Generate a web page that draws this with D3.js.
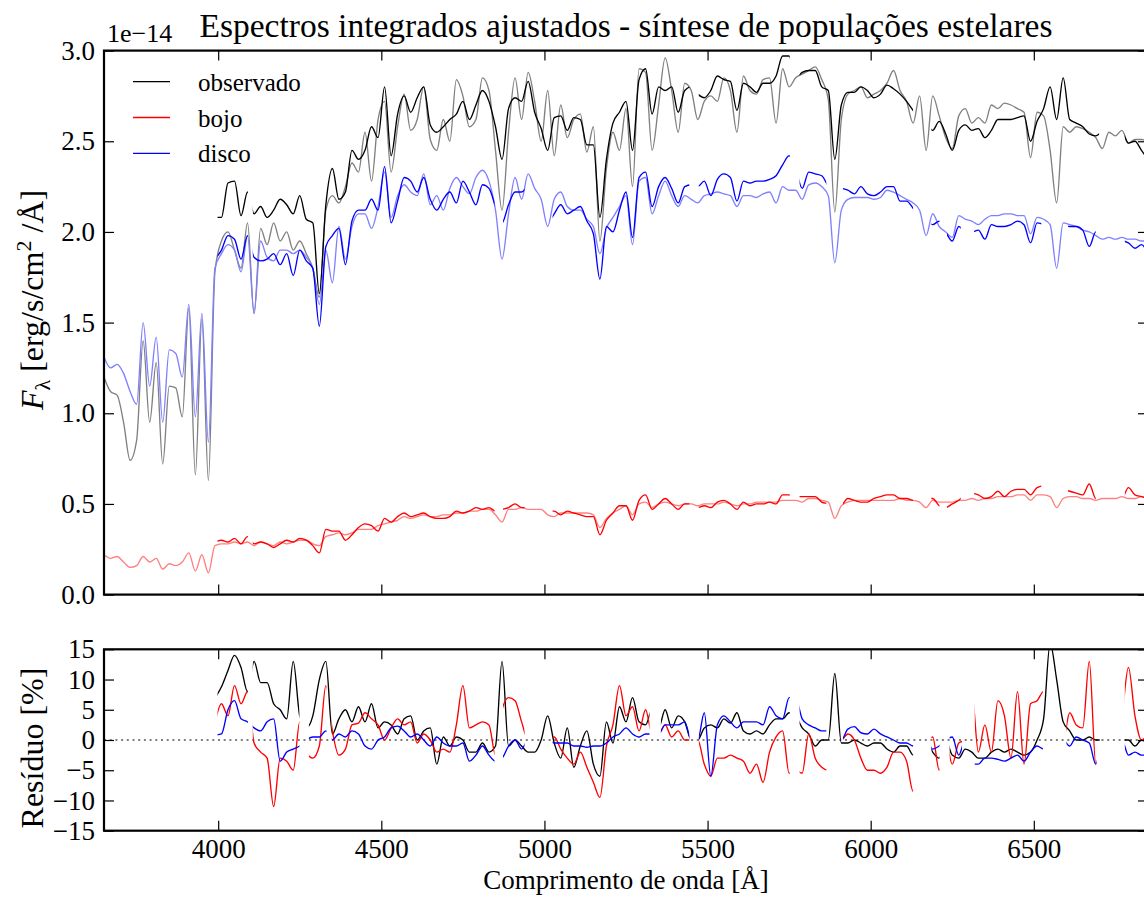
<!DOCTYPE html>
<html>
<head>
<meta charset="utf-8">
<title>Espectros integrados ajustados</title>
<style>
  body { margin: 0; background: #fff; }
  svg text { font-family: "Liberation Serif", "DejaVu Serif", serif; fill: #000; }
</style>
</head>
<body>
<svg id="chart" width="1144" height="916"></svg>
<script src="https://d3js.org/d3.v7.min.js"></script>
<script>
// wavelength grid in Angstrom
let lambda = [
  3650,3670,3690,3710,3730,3750,3770,3790,3810,3830,3850,3870,3890,3910,3930,3950,3970,3990,
  4010,4030,4050,4070,4090,4110,4130,4150,4170,4190,4210,4230,4250,4270,4290,4310,4330,4350,4370,4390,4410,4430,
  4450,4470,4490,4510,4530,4550,4570,4590,4610,4630,4650,4670,4690,4710,4730,4750,4770,4790,4810,4830,
  4850,4870,4890,4910,4930,4950,4970,4990,5010,5030,5050,5070,5090,5110,5130,5150,5170,5190,5210,5230,
  5250,5270,5290,5310,5330,5350,5370,5390,5410,5430,5450,5470,5490,5510,5530,5550,5570,5590,5610,5630,
  5650,5670,5690,5710,5730,5750,5770,5790,5810,5830,5850,5870,5890,5910,5930,5950,5970,5990,6010,6030,
  6050,6070,6090,6110,6130,6150,6170,6190,6210,6230,6250,6270,6290,6310,6330,6350,6370,6390,6410,6430,
  6450,6470,6490,6510,6530,6550,6570,6590,6610,6630,6650,6670,6690,6710,6730,6750,6770,6790,6810,6830,6850
]
const _ = null

// flux in units of 1e-14 erg/s/cm2/A
let totalModel = [
  1.20,1.12,1.10,0.95,0.74,0.85,1.40,0.95,1.28,0.72,1.15,1.14,0.98,1.58,0.66,1.52,0.63,1.78,
  1.95,2.00,1.90,1.80,2.05,1.55,2.02,1.93,2.05,1.95,2.00,1.90,1.95,1.88,1.80,1.64,2.12,2.20,2.16,2.25,2.38,2.33,
  2.55,2.28,2.62,2.72,2.33,2.58,2.76,2.56,2.62,2.80,2.51,2.45,2.62,2.50,2.84,2.75,2.58,2.62,2.85,2.78,
  2.45,2.12,2.55,2.85,2.62,2.88,2.72,2.50,2.78,2.42,2.70,2.52,2.62,2.65,2.44,2.58,1.95,2.35,2.55,2.45,
  2.68,2.25,2.90,2.88,2.45,2.70,2.96,2.78,2.55,2.82,2.78,2.62,2.72,2.75,2.72,2.85,2.78,2.55,2.86,2.78,
  2.76,2.84,2.85,2.60,2.90,2.80,2.85,2.87,2.89,2.91,2.84,2.73,2.11,2.62,2.76,2.78,2.80,2.74,2.76,2.78,
  2.82,2.89,2.78,2.72,2.60,2.75,2.45,2.75,2.64,2.52,2.46,2.64,2.68,2.60,2.63,2.60,2.70,2.68,2.71,2.70,
  2.68,2.66,2.41,2.66,2.64,2.45,2.16,2.58,2.55,2.58,2.57,2.55,2.52,2.46,2.55,2.53,2.56,2.49,2.51,2.51,2.50
]
let totalObs = [
  _,_,_,_,_,_,_,_,_,_,_,_,_,_,_,_,_,2.08,
  2.08,2.27,2.28,2.09,2.22,2.10,2.14,2.08,2.12,2.18,2.15,2.10,2.20,2.07,2.05,1.66,2.15,2.35,2.18,2.22,2.45,2.40,
  2.45,2.58,2.52,2.80,2.42,2.65,2.75,2.66,2.74,2.80,2.59,2.55,2.58,2.62,2.65,2.72,2.62,2.70,2.78,2.72,
  2.58,2.40,2.68,2.74,2.72,2.83,2.66,2.57,2.45,2.63,2.64,2.56,2.63,2.62,2.48,2.48,2.08,2.40,2.60,2.66,
  2.72,2.45,2.84,2.90,2.65,2.80,2.78,2.80,2.66,2.78,2.80,2.76,2.74,2.78,2.86,2.84,2.83,2.67,2.82,2.80,
  2.77,2.82,2.82,2.86,2.97,2.97,2.85,2.88,2.89,2.89,2.80,2.78,2.40,2.70,2.77,2.77,2.80,2.78,2.74,2.76,
  2.81,2.79,2.76,2.72,2.67,2.62,2.60,2.56,2.61,2.54,2.45,2.56,2.59,2.56,2.57,2.52,2.56,2.62,2.62,2.62,
  2.63,2.64,2.50,2.61,2.68,2.80,2.62,2.85,2.62,2.60,2.58,2.54,2.53,2.55,2.55,2.55,2.55,2.49,2.50,2.45,2.40
]
let diskModel = [
  1.31,1.25,1.27,1.22,1.12,1.05,1.50,1.15,1.42,0.95,1.35,1.33,1.20,1.60,0.98,1.55,0.84,1.80,
  1.88,1.93,1.90,1.78,1.98,1.55,1.95,1.86,1.84,1.90,1.90,1.88,1.90,1.86,1.80,1.60,1.90,1.72,2.03,1.85,2.03,2.10,
  2.10,2.02,2.14,2.33,2.08,2.20,2.26,2.22,2.20,2.32,2.15,2.20,2.12,2.24,2.30,2.25,2.21,2.30,2.34,2.28,
  2.12,1.85,2.10,2.30,2.18,2.32,2.24,2.18,2.03,2.18,2.22,2.14,2.12,2.12,2.07,2.03,1.88,2.02,2.08,2.14,
  2.20,1.93,2.28,2.30,2.10,2.20,2.28,2.20,2.14,2.20,2.18,2.16,2.20,2.21,2.22,2.21,2.20,2.14,2.20,2.20,
  2.19,2.21,2.22,2.16,2.25,2.23,2.23,2.18,2.26,2.27,2.25,2.20,1.83,2.12,2.18,2.19,2.19,2.19,2.18,2.19,
  2.23,2.22,2.20,2.18,2.16,2.12,1.98,2.10,2.03,2.00,1.97,2.09,2.07,2.06,2.04,2.07,2.09,2.09,2.10,2.10,
  2.09,2.09,1.99,2.08,2.07,2.04,1.80,2.05,2.04,2.03,2.01,2.00,1.98,1.96,1.97,1.96,1.97,1.96,1.96,1.95,1.95
]
let diskObs = [
  _,_,_,_,_,_,_,_,_,_,_,_,_,_,_,_,_,1.85,
  1.90,1.98,1.96,1.85,1.98,1.86,1.84,1.85,1.88,1.82,1.88,1.76,1.90,1.84,1.80,1.48,1.92,1.98,2.02,1.82,2.06,2.12,
  2.12,2.18,2.12,2.36,2.05,2.17,2.30,2.28,2.22,2.30,2.18,2.12,2.18,2.22,2.16,2.28,2.22,2.15,2.26,2.24,
  2.14,2.05,2.15,2.22,2.22,2.25,2.22,2.14,2.05,2.10,2.15,2.10,2.12,2.14,2.06,1.99,1.74,2.03,2.00,2.12,
  2.22,1.97,2.30,2.33,2.14,2.25,2.30,2.24,2.16,2.25,2.26,2.25,2.28,2.20,2.29,2.32,2.30,2.17,2.28,2.27,
  2.28,2.28,2.29,2.31,2.37,2.42,2.35,2.24,2.33,2.32,2.31,2.25,2.20,2.24,2.23,2.21,2.25,2.21,2.20,2.22,
  2.25,2.25,2.17,2.17,2.13,2.08,2.06,2.04,2.06,2.00,1.95,2.03,2.00,2.00,2.01,1.96,2.04,2.03,2.03,2.04,
  2.06,2.04,1.94,2.05,2.04,2.00,2.00,2.04,2.03,2.03,2.01,1.92,2.00,1.95,1.95,1.95,1.95,1.94,1.91,1.93,1.88
]
let bulgeModel = [
  0.22,0.20,0.21,0.18,0.15,0.16,0.21,0.18,0.20,0.14,0.17,0.16,0.18,0.23,0.13,0.22,0.12,0.27,
  0.28,0.28,0.29,0.28,0.29,0.27,0.29,0.28,0.27,0.29,0.28,0.29,0.30,0.30,0.28,0.27,0.32,0.33,0.34,0.33,0.34,0.36,
  0.36,0.36,0.38,0.39,0.40,0.41,0.43,0.42,0.43,0.44,0.43,0.43,0.44,0.44,0.45,0.45,0.46,0.46,0.47,0.47,
  0.44,0.40,0.47,0.47,0.48,0.47,0.47,0.47,0.44,0.43,0.45,0.45,0.45,0.45,0.45,0.44,0.37,0.42,0.45,0.47,
  0.49,0.44,0.50,0.51,0.48,0.50,0.51,0.50,0.49,0.50,0.50,0.49,0.50,0.50,0.50,0.51,0.50,0.49,0.50,0.50,
  0.51,0.51,0.51,0.51,0.52,0.52,0.52,0.51,0.53,0.53,0.52,0.51,0.42,0.49,0.51,0.52,0.52,0.52,0.52,0.52,
  0.52,0.52,0.53,0.52,0.52,0.51,0.48,0.52,0.51,0.51,0.51,0.52,0.52,0.53,0.52,0.53,0.53,0.54,0.54,0.54,
  0.55,0.55,0.52,0.55,0.55,0.54,0.48,0.53,0.54,0.54,0.53,0.53,0.52,0.53,0.53,0.53,0.54,0.53,0.53,0.54,0.54
]
let bulgeObs = [
  _,_,_,_,_,_,_,_,_,_,_,_,_,_,_,_,_,0.29,
  0.30,0.29,0.31,0.28,0.32,0.28,0.29,0.28,0.26,0.28,0.30,0.29,0.31,0.30,0.27,0.23,0.36,0.35,0.35,0.30,0.33,0.37,
  0.39,0.38,0.35,0.42,0.40,0.43,0.45,0.43,0.44,0.45,0.43,0.42,0.42,0.43,0.46,0.45,0.46,0.48,0.47,0.48,
  0.46,0.47,0.48,0.50,0.48,0.48,0.47,0.47,0.46,0.46,0.44,0.46,0.45,0.44,0.43,0.43,0.33,0.41,0.45,0.49,
  0.49,0.41,0.52,0.55,0.47,0.50,0.53,0.50,0.47,0.50,0.50,0.48,0.49,0.48,0.51,0.52,0.50,0.47,0.51,0.49,
  0.50,0.50,0.51,0.50,0.55,0.55,0.54,0.54,0.54,0.54,0.51,0.50,0.48,0.49,0.53,0.52,0.51,0.51,0.53,0.54,
  0.55,0.55,0.53,0.53,0.52,0.52,0.53,0.53,0.49,0.48,0.50,0.52,0.55,0.56,0.55,0.53,0.54,0.57,0.54,0.57,
  0.58,0.58,0.55,0.59,0.60,0.58,0.58,0.58,0.57,0.56,0.55,0.61,0.53,0.53,0.53,0.53,0.53,0.59,0.55,0.54,0.53
]

// residuals in per cent
let resTotal = [
  _,_,_,_,_,_,_,_,_,_,_,_,_,_,_,_,_,6.9,
  8.8,11.5,14.0,12.0,8.0,13.0,9.5,9.5,6.0,5.0,3.5,13.0,4.0,2.0,4.0,10.0,13.0,1.0,3.5,5.0,3.0,5.5,
  3.0,6.0,2.0,3.0,2.5,1.0,3.5,4.0,0.0,1.5,2.0,-4.0,0.5,-1.0,0.5,0.0,-2.0,-2.0,-0.5,-2.0,
  -1.0,13.0,-1.0,0.0,-1.0,-2.0,-2.0,0.0,4.0,-0.5,-3.0,2.0,-4.5,-1.0,1.5,-4.0,-6.0,3.0,-0.5,5.5,
  3.0,7.0,3.0,2.5,5.0,2.0,5.0,2.0,4.0,3.0,0.0,0.0,2.0,2.5,2.0,3.5,2.8,4.5,1.5,1.0,
  1.5,1.0,2.5,3.5,3.5,4.5,4.0,2.0,1.0,-1.0,0.0,0.0,11.0,-0.5,-0.5,0.0,-0.5,-1.0,-0.5,-0.5,
  -1.5,-2.0,-1.0,-1.0,-2.5,0.0,0.0,-2.0,-3.0,0.0,-2.5,-3.0,-1.5,-2.0,-3.0,-3.0,-2.0,-1.5,-2.0,-1.5,
  -2.0,-2.5,-2.0,0.0,3.5,16.0,10.0,3.0,1.5,0.0,0.0,0.5,0.0,0.0,0.0,0.0,0.0,0.0,-1.0,0.0,-0.5
]
let resBulge = [
  _,_,_,_,_,_,_,_,_,_,_,_,_,_,_,_,_,2.8,
  6.0,4.0,9.0,6.0,8.0,-0.5,-2.0,-3.0,-11.0,-3.0,-3.5,-5.0,3.0,-2.0,-3.0,-1.0,9.0,1.5,-2.5,-1.5,2.5,2.8,
  4.5,3.5,2.5,0.0,2.0,3.5,2.5,3.0,-0.5,1.0,0.0,-2.0,-1.5,-2.0,2.5,9.0,2.0,2.5,3.0,2.5,
  -2.5,5.0,7.0,6.5,3.0,0.0,0.0,0.0,0.0,0.5,-1.5,-3.0,-4.0,-2.0,-4.5,-7.0,-9.5,-1.0,2.5,9.0,
  4.0,5.5,1.5,5.0,1.0,1.0,2.5,0.5,1.5,0.0,0.0,0.0,-4.0,-6.0,-3.0,-3.0,-2.5,-3.0,-3.5,-5.5,
  -4.0,-7.0,-2.0,0.5,1.5,-5.5,-5.0,-5.5,1.0,-3.0,-4.5,-5.0,0.0,0.0,1.0,0.0,-3.0,-5.0,-5.0,-5.5,
  -4.5,-2.0,-2.0,-3.5,-8.5,0.0,0.0,0.5,-5.0,0.0,-4.0,-0.5,0.0,8.0,-2.0,2.5,-2.0,6.5,4.0,-3.0,
  8.0,-4.0,6.0,6.5,8.0,0.0,0.0,0.0,4.5,2.5,2.0,13.0,-4.0,0.0,0.0,0.0,4.0,12.0,4.0,0.0,1.0
]
let resDisk = [
  _,_,_,_,_,_,_,_,_,_,_,_,_,_,_,_,_,0.8,
  1.0,5.0,6.5,3.5,3.0,2.0,1.5,3.0,3.5,-3.5,-2.0,-1.5,-1.0,0.0,0.5,0.5,1.5,0.0,1.0,0.5,1.5,1.0,
  -1.0,-1.5,0.0,0.5,2.0,2.3,1.5,0.5,1.0,0.0,-1.0,0.5,-0.5,-1.0,-1.0,-0.5,-3.5,-2.5,-1.0,-2.5,
  -3.5,-3.0,-1.0,0.0,-1.5,0.0,0.0,0.0,0.0,-0.5,-0.5,-0.5,-1.0,-1.0,-1.2,-1.0,-1.0,-0.5,0.5,1.0,
  2.0,1.0,0.5,1.0,1.0,1.0,2.5,2.5,2.5,3.0,0.0,0.0,4.5,-6.0,2.5,4.0,3.0,2.0,3.0,3.0,
  3.0,2.5,5.5,4.0,3.5,7.0,7.0,3.5,2.5,2.0,1.5,1.5,0.0,0.0,1.8,2.2,1.2,1.0,1.8,1.0,
  0.5,0.0,-0.5,-0.5,-1.0,0.0,0.0,-1.5,-1.0,0.0,0.5,-2.5,0.0,-4.0,-4.0,-3.0,-3.0,-3.2,-3.5,-3.0,
  -2.5,-3.5,-2.0,-1.0,-1.5,0.0,0.0,0.0,-1.0,0.5,0.0,-0.5,-4.0,0.0,0.0,0.0,0.0,-2.5,-2.0,-2.5,-2.5
]

// masked wavelength intervals of the observed spectra (top panel / residual panel)
let obsStart = 3998
let topTotalGaps = [[4091,4106],[5444,5473],[5752,5782],[6130,6186],[6700,6779]]
let topCompGaps = [[4091,4106],[4847,4873],[4939,5025],[5444,5473],[5752,5782],[5864,5915],
                   [6130,6186],[6211,6234],[6276,6317],[6523,6605],[6690,6779]]
let resTotalGaps = [[4091,4106],[4249,4278],[5322,5357],[5444,5473],[5752,5782],[6130,6186],[6211,6242],[6702,6779]]
let resCompGaps = [[4091,4106],[4249,4278],[4332,4348],[4847,4873],[4939,5025],[5322,5357],[5444,5473],[5752,5782],
                   [5864,5915],[6130,6186],[6211,6242],[6280,6319],[6528,6600],[6692,6779]]

let xTicks = [4000, 4500, 5000, 5500, 6000, 6500]
let fluxTicks = [0, 0.5, 1, 1.5, 2, 2.5, 3]
let resTicks = [-15, -10, -5, 0, 5, 10, 15]
let legendNames = ["observado", "bojo", "disco"]
let legendColors = ["#000000", "#ff0000", "#0000ff"]

const svg = d3.select("#chart")
svg.append("rect").attr("width", 1144).attr("height", 916).attr("fill", "#fff")

const left = 104, right = 1148
const top1 = 50.6, bot1 = 594.6, top2 = 649.3, bot2 = 830.7
const fs = 27

let x = d3.scaleLinear().domain([3650, 6850]).range([left, right])
let yF = d3.scaleLinear().domain([0, 3]).range([bot1, top1])
let yR = d3.scaleLinear().domain([-15, 15]).range([bot2, top2])

let defs = svg.append("defs")
function keptRanges(gaps) {
  let out = [], start = obsStart
  gaps.forEach(g => { out.push([start, g[0]]); start = g[1] })
  out.push([start, 6850])
  return out
}
function makeClip(id, ranges, y0, y1) {
  let cp = defs.append("clipPath").attr("id", id)
  ranges.forEach(r => cp.append("rect")
    .attr("x", x(r[0])).attr("width", x(r[1]) - x(r[0]))
    .attr("y", y0).attr("height", y1 - y0))
}
makeClip("clipTop", [[3650, 6850]], top1, bot1)
makeClip("clipTopTot", keptRanges(topTotalGaps), top1, bot1)
makeClip("clipTopComp", keptRanges(topCompGaps), top1, bot1)
makeClip("clipResTot", keptRanges(resTotalGaps), top2, bot2)
makeClip("clipResComp", keptRanges(resCompGaps), top2, bot2)

function drawLine(values, yScale, color, clip) {
  let line = d3.line()
    .defined(d => d[1] != null)
    .x(d => x(d[0]))
    .y(d => yScale(d[1]))
    .curve(d3.curveMonotoneX)
  svg.append("path")
    .datum(lambda.map((l, i) => [l, values[i]]))
    .attr("d", line)
    .attr("fill", "none")
    .attr("stroke", color)
    .attr("stroke-width", 1.35)
    .attr("stroke-linejoin", "round")
    .attr("clip-path", `url(#${clip})`)
}

// residual zero line
svg.append("line")
  .attr("x1", left).attr("x2", right)
  .attr("y1", yR(0)).attr("y2", yR(0))
  .attr("stroke", "#000").attr("stroke-width", 1.2)
  .attr("stroke-dasharray", "2,3.7")

// spectra
drawLine(totalModel, yF, "#808080", "clipTop")
drawLine(totalObs, yF, "#000000", "clipTopTot")
drawLine(bulgeModel, yF, "#ff8080", "clipTop")
drawLine(bulgeObs, yF, "#ff0000", "clipTopComp")
drawLine(diskModel, yF, "#8080ff", "clipTop")
drawLine(diskObs, yF, "#0000ff", "clipTopComp")

// residuals
drawLine(resTotal, yR, "#000000", "clipResTot")
drawLine(resBulge, yR, "#ff0000", "clipResComp")
drawLine(resDisk, yR, "#0000ff", "clipResComp")

// axes
const tick = 10
function styleAxis(g) {
  g.select(".domain").remove()
  g.selectAll(".tick line").attr("stroke", "#000").attr("stroke-width", 1.2)
  g.selectAll(".tick text").attr("font-size", fs).attr("font-family", "Liberation Serif").attr("fill", "#000")
}
svg.append("g").attr("transform", `translate(0,${bot1})`)
  .call(d3.axisBottom(x).tickValues(xTicks).tickSize(-tick).tickFormat("")).call(styleAxis)
svg.append("g").attr("transform", `translate(0,${top1})`)
  .call(d3.axisTop(x).tickValues(xTicks).tickSize(-tick).tickFormat("")).call(styleAxis)
svg.append("g").attr("transform", `translate(${left},0)`)
  .call(d3.axisLeft(yF).tickValues(fluxTicks).tickSize(-tick).tickPadding(9).tickFormat(d3.format(".1f"))).call(styleAxis)
svg.append("g").attr("transform", `translate(${right},0)`)
  .call(d3.axisRight(yF).tickValues(fluxTicks).tickSize(-tick).tickFormat("")).call(styleAxis)

svg.append("g").attr("transform", `translate(0,${bot2})`)
  .call(d3.axisBottom(x).tickValues(xTicks).tickSize(-tick).tickPadding(8).tickFormat(d3.format("d"))).call(styleAxis)
svg.append("g").attr("transform", `translate(0,${top2})`)
  .call(d3.axisTop(x).tickValues(xTicks).tickSize(-tick).tickFormat("")).call(styleAxis)
svg.append("g").attr("transform", `translate(${left},0)`)
  .call(d3.axisLeft(yR).tickValues(resTicks).tickSize(-tick).tickPadding(9).tickFormat(d3.format("d"))).call(styleAxis)
svg.append("g").attr("transform", `translate(${right},0)`)
  .call(d3.axisRight(yR).tickValues(resTicks).tickSize(-tick).tickFormat("")).call(styleAxis)

// frames
svg.append("rect").attr("x", left).attr("y", top1).attr("width", right - left).attr("height", bot1 - top1)
  .attr("fill", "none").attr("stroke", "#000").attr("stroke-width", 2.2)
svg.append("rect").attr("x", left).attr("y", top2).attr("width", right - left).attr("height", bot2 - top2)
  .attr("fill", "none").attr("stroke", "#000").attr("stroke-width", 2.2)

// texts
svg.append("text").attr("x", (left + right) / 2).attr("y", 37).attr("text-anchor", "middle")
  .attr("font-size", 33.5).text("Espectros integrados ajustados - síntese de populações estelares")
svg.append("text").attr("x", 107).attr("y", 42).attr("font-size", 26).text("1e\u221214")

const lfs = 32
let yl = svg.append("text").attr("transform", "translate(43,300) rotate(-90)")
  .attr("text-anchor", "middle").attr("font-size", lfs)
yl.append("tspan").attr("font-style", "italic").text("F")
yl.append("tspan").attr("font-size", 22).attr("dy", 7).text("λ")
yl.append("tspan").attr("dy", -7).text(" [erg/s/cm")
yl.append("tspan").attr("font-size", 22).attr("dy", -12).text("2")
yl.append("tspan").attr("dy", 12).text(" /Å]")

svg.append("text").attr("transform", "translate(43,748) rotate(-90)")
  .attr("text-anchor", "middle").attr("font-size", lfs).text("Resíduo [%]")

svg.append("text").attr("x", (left + right) / 2).attr("y", 889).attr("text-anchor", "middle")
  .attr("font-size", fs).text("Comprimento de onda [Å]")

// legend
let leg = svg.append("g")
legendNames.forEach((name, i) => {
  let yy = 81.7 + i * 35.8
  leg.append("line").attr("x1", 133).attr("x2", 170).attr("y1", yy).attr("y2", yy)
    .attr("stroke", legendColors[i]).attr("stroke-width", 1.3)
  leg.append("text").attr("x", 198).attr("y", yy + 9).attr("font-size", 25).text(name)
})
</script>
</body>
</html>
